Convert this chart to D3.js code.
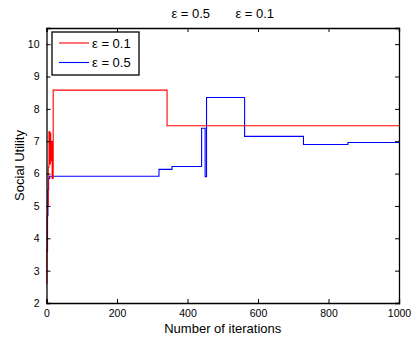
<!DOCTYPE html>
<html>
<head>
<meta charset="utf-8">
<script src="https://cdn.jsdelivr.net/npm/d3@7"></script>
<style>
  body { margin: 0; background: #fff; }
  svg { font-family: "Liberation Sans", Arial, sans-serif; }
</style>
</head>
<body>
<div id="chart"></div>
<script>
// iteration where the value changes, and the value from there on
const redIter = [0, 1, 3, 5, 7, 9, 11, 12, 14, 16, 19, 342, 1000];
const redVal = [2.6, 3.6, 5.0, 6.2, 7.3, 6.3, 7.25, 6.4, 7.0, 5.85, 8.58, 7.48, 7.48];
const blueIter = [0, 2, 4, 6, 9, 319, 356, 440, 450, 454, 562, 729, 855, 1000];
const blueVal = [3.6, 4.7, 5.5, 5.85, 5.92, 6.13, 6.22, 7.4, 5.9, 8.35, 7.15, 6.9, 6.96, 6.96];
const seriesNames = ['ε = 0.1', 'ε = 0.5'];
const seriesColors = ['#ff0000', '#0000ff'];
const xTicks = [0, 200, 400, 600, 800, 1000];
const yTicks = [2, 3, 4, 5, 6, 7, 8, 9, 10];
const titleText = 'ε = 0.5       ε = 0.1';

const width = 414, height = 339;
const margin = { top: 28, left: 46.5, right: 15, bottom: 36 };
const innerWidth = width - margin.left - margin.right;
const innerHeight = height - margin.top - margin.bottom;

const svg = d3.select('#chart')
  .append('svg')
  .attr('width', width)
  .attr('height', height);

const g = svg.append('g')
  .attr('transform', `translate(${margin.left},${margin.top})`);

const xScale = d3.scaleLinear().domain([0, 1000]).range([0, innerWidth]);
const yScale = d3.scaleLinear().domain([2, 10.5]).range([innerHeight, 0]);

const series = [
  redIter.map((d, i) => [d, redVal[i]]),
  blueIter.map((d, i) => [d, blueVal[i]])
];

// lines, blue under red like the picture
const line = d3.line()
  .x(d => xScale(d[0]))
  .y(d => yScale(d[1]))
  .curve(d3.curveStepAfter);

[1, 0].forEach(i => {
  g.append('path')
    .datum(series[i])
    .attr('fill', 'none')
    .attr('stroke', seriesColors[i])
    .attr('stroke-width', 1.1)
    .attr('d', line);
});

// axes, matlab style ticks inside on all sides
const tickLen = 4;
g.append('g')
  .attr('transform', `translate(0,${innerHeight})`)
  .call(d3.axisBottom(xScale).tickValues(xTicks).tickSize(-tickLen).tickPadding(7).tickFormat(d3.format('d')));
g.append('g')
  .call(d3.axisTop(xScale).tickValues(xTicks).tickSize(-tickLen).tickFormat(''));
g.append('g')
  .call(d3.axisLeft(yScale).tickValues(yTicks).tickSize(-tickLen).tickPadding(7).tickFormat(d3.format('d')));
g.append('g')
  .attr('transform', `translate(${innerWidth},0)`)
  .call(d3.axisRight(yScale).tickValues(yTicks).tickSize(-tickLen).tickFormat(''));

g.selectAll('.domain').attr('stroke', '#000').attr('stroke-width', 1.3);
g.selectAll('.tick line').attr('stroke', '#000');
g.selectAll('.tick text').attr('fill', '#000').style('font-size', '10.5px');

// axis labels and title
svg.append('text')
  .attr('x', margin.left + innerWidth / 2)
  .attr('y', 333)
  .attr('text-anchor', 'middle')
  .style('font-size', '13px')
  .text('Number of iterations');

svg.append('text')
  .attr('transform', `translate(24,${margin.top + innerHeight / 2}) rotate(-90)`)
  .attr('text-anchor', 'middle')
  .style('font-size', '13px')
  .text('Social Utility');

svg.append('text')
  .attr('x', margin.left + innerWidth / 2)
  .attr('y', 18)
  .attr('text-anchor', 'middle')
  .style('font-size', '13px')
  .style('white-space', 'pre')
  .attr('xml:space', 'preserve')
  .text(titleText);

// legend
const legend = svg.append('g').attr('transform', 'translate(52,32)');
legend.append('rect')
  .attr('width', 87)
  .attr('height', 43)
  .attr('fill', '#fff')
  .attr('stroke', '#000')
  .attr('stroke-width', 1.3);

seriesNames.forEach((name, i) => {
  const y = 11 + i * 19.5;
  legend.append('line')
    .attr('x1', 7).attr('x2', 37)
    .attr('y1', y).attr('y2', y)
    .attr('stroke', seriesColors[i])
    .attr('stroke-width', 1.1);
  legend.append('text')
    .attr('x', 40)
    .attr('y', y + 4.5)
    .style('font-size', '13px')
    .text(name);
});
</script>
</body>
</html>
